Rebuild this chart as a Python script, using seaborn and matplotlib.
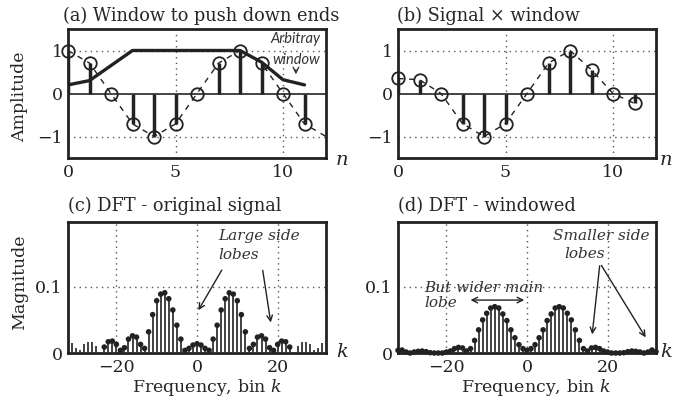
import matplotlib
matplotlib.use("Agg")
import matplotlib.pyplot as plt
import seaborn as sns
import pandas as pd

# ---- time-domain samples -------------------------------------------------
n = [0, 1, 2, 3, 4, 5, 6, 7, 8, 9, 10, 11]
signal = [1.0, 0.707, 0.0, -0.707, -1.0, -0.707, 0.0, 0.707, 1.0, 0.707, 0.0, -0.707]
trace_n = [0, 1, 2, 3, 4, 5, 6, 7, 8, 9, 10, 11, 12]
trace = [1.0, 0.707, 0.0, -0.707, -1.0, -0.707, 0.0, 0.707, 1.0, 0.707, 0.0, -0.707, -1.0]
window_n = [0, 1, 3, 8, 9, 10, 11]
window = [0.2, 0.3, 1.0, 1.0, 0.73, 0.32, 0.2]
windowed = [0.35, 0.32, 0.0, -0.7, -1.0, -0.7, 0.0, 0.707, 1.0, 0.55, 0.0, -0.23]

# ---- spectra --------------------------------------------------------------
k_orig = list(range(-31, 32))
mag_orig = [0.015, 0.008, 0.005, 0.013, 0.017, 0.016, 0.011, 0.0,
            0.009, 0.017, 0.018, 0.013, 0.004, 0.008, 0.021, 0.026,
            0.024, 0.013, 0.007, 0.032, 0.058, 0.079, 0.089, 0.091,
            0.082, 0.065, 0.042, 0.021, 0.004, 0.007, 0.012, 0.014,
            0.012, 0.007, 0.004, 0.021, 0.042, 0.065, 0.082, 0.091,
            0.089, 0.079, 0.058, 0.032, 0.007, 0.013, 0.024, 0.026,
            0.021, 0.008, 0.004, 0.013, 0.018, 0.017, 0.009, 0.0,
            0.011, 0.016, 0.017, 0.013, 0.005, 0.008, 0.015]
k_win = list(range(-32, 33))
mag_win = [0.004, 0.0045, 0.0015, 0.0, 0.0015, 0.0025, 0.003, 0.002,
           0.0005, 0.0, 0.0, 0.0, 0.0015, 0.003, 0.0066, 0.0085,
           0.0076, 0.003, 0.0066, 0.019, 0.035, 0.050, 0.060, 0.068,
           0.070, 0.068, 0.059, 0.049, 0.035, 0.023, 0.0126, 0.0066,
           0.004,
           0.0066, 0.0126, 0.023, 0.035, 0.049, 0.059, 0.068, 0.070,
           0.068, 0.060, 0.050, 0.035, 0.019, 0.0066, 0.003, 0.0076,
           0.0085, 0.0066, 0.003, 0.0015, 0.0, 0.0, 0.0, 0.0005,
           0.002, 0.003, 0.0025, 0.0015, 0.0, 0.0015, 0.0045, 0.002]

sns.set_style("white")
plt.rcParams["font.family"] = ["DejaVu Serif"]
plt.rcParams["mathtext.fontset"] = "dejavuserif"

W, H = 674, 400
fig = plt.figure(figsize=(W / 100, H / 100), dpi=100)


def add_ax(l, t, r, b):
    return fig.add_axes([l / W, 1 - b / H, (r - l) / W, (b - t) / H])


ax_a = add_ax(68, 29, 326, 158)
ax_b = add_ax(398, 29, 656, 158)
ax_c = add_ax(68, 222, 326, 353)
ax_d = add_ax(398, 222, 656, 353)

TICK_FS = 12.5
grid_kw = dict(color="#555555", lw=1.0, ls=(0, (1, 3)), zorder=0)
ink = "#222222"


def frame(ax):
    for s in ax.spines.values():
        s.set_linewidth(2.0)
        s.set_color(ink)
    ax.tick_params(length=0, labelsize=TICK_FS, pad=4, colors="#222222")


def time_panel(ax, vals, trace_n, trace_y):
    frame(ax)
    ax.set_xlim(0, 12)
    ax.set_ylim(-1.5, 1.5)
    ax.set_xticks([0, 5, 10])
    ax.set_yticks([-1, 0, 1])
    ax.set_yticklabels(["\u22121", "0", "1"])
    for x in (5, 10):
        ax.axvline(x, **grid_kw)
    for y in (-1, 1):
        ax.axhline(y, **grid_kw)
    ax.axhline(0, color="#444444", lw=1.4, zorder=1)
    df = pd.DataFrame({"n": trace_n, "v": trace_y})
    sns.lineplot(data=df, x="n", y="v", ax=ax, color=ink, lw=1.0,
                 dashes=False, linestyle=(0, (4, 4)), zorder=2)
    ax.vlines(n, 0, vals, color=ink, lw=2.5, zorder=3)
    ax.plot(n, vals, ls="none", marker="o", ms=9, mfc="none", mec=ink,
            mew=1.3, zorder=4, clip_on=False)
    ax.set_xlabel("")
    ax.set_ylabel("")


def freq_panel(ax, k, mags, dotted_range):
    frame(ax)
    ax.set_xlim(-32, 32)
    ax.set_ylim(0, 0.198)
    ax.set_xticks([-20, 0, 20])
    ax.set_xticklabels(["\u221220", "0", "20"])
    ax.set_yticks([0, 0.1])
    ax.set_yticklabels(["0", "0.1"])
    for x in (-20, 0, 20):
        ax.axvline(x, **grid_kw)
    ax.axhline(0.1, **grid_kw)
    ax.vlines(k, 0, mags, color="#333333", lw=1.3, zorder=3)
    df = pd.DataFrame({"k": k, "m": mags})
    df = df[(df.k >= -dotted_range) & (df.k <= dotted_range)]
    sns.scatterplot(data=df, x="k", y="m", ax=ax, color=ink, s=16,
                    edgecolor="none", zorder=5, clip_on=False)
    ax.set_xlabel("")
    ax.set_ylabel("")


# (a) signal with window
time_panel(ax_a, signal, trace_n, trace)
wdf = pd.DataFrame({"n": window_n, "w": window})
sns.lineplot(data=wdf, x="n", y="w", ax=ax_a, color=ink, lw=2.4, zorder=3)
ax_a.set_xlabel("")
ax_a.set_ylabel("")
ax_a.text(10.6, 1.27, "Arbitray", ha="center", va="center", fontsize=10.5,
          family="Lato", style="italic", color="#333333")
ax_a.text(10.6, 0.77, "window", ha="center", va="center", fontsize=10.5,
          family="Lato", style="italic", color="#333333")
ax_a.annotate("", xy=(10.6, 0.38), xytext=(10.6, 0.62),
              arrowprops=dict(arrowstyle="->", color="#333333", lw=1.0))

# (b) windowed signal
time_panel(ax_b, windowed, n, windowed)

# (c) spectrum of the original signal
freq_panel(ax_c, k_orig, mag_orig, 23)
ax_c.text(5.2, 0.177, "Large side", fontsize=11, style="italic",
          color="#333333", va="center")
ax_c.text(5.2, 0.148, "lobes", fontsize=11, style="italic",
          color="#333333", va="center")
arrow_kw = dict(arrowstyle="->", color="#222222", lw=1.0)
ax_c.annotate("", xy=(0, 0.061), xytext=(6.5, 0.129), arrowprops=arrow_kw)
ax_c.annotate("", xy=(18.4, 0.042), xytext=(16.2, 0.129), arrowprops=arrow_kw)

# (d) spectrum of the windowed signal
freq_panel(ax_d, k_win, mag_win, 32)
ax_d.text(6.4, 0.177, "Smaller side", fontsize=11, style="italic",
          color="#333333", va="center")
ax_d.text(9.3, 0.150, "lobes", fontsize=11, style="italic",
          color="#333333", va="center")
ax_d.annotate("", xy=(16.1, 0.024), xytext=(18.1, 0.136), arrowprops=arrow_kw)
ax_d.annotate("", xy=(29.8, 0.020), xytext=(18.1, 0.136), arrowprops=arrow_kw)
ax_d.text(-25.4, 0.098, "But wider main", fontsize=11, style="italic",
          color="#333333", va="center")
ax_d.text(-25.4, 0.076, "lobe", fontsize=11, style="italic",
          color="#333333", va="center")
ax_d.annotate("", xy=(-14.7, 0.080), xytext=(0, 0.080),
              arrowprops=dict(arrowstyle="<->", color="#222222", lw=1.0))

# titles
TITLE_FS = 12.8
fig.text(63 / W, 1 - 16 / H, "(a) Window to push down ends", fontsize=TITLE_FS,
         va="center", ha="left")
fig.text(397 / W, 1 - 16 / H, "(b) Signal \u00d7 window", fontsize=TITLE_FS,
         va="center", ha="left")
fig.text(68 / W, 1 - 206 / H, "(c) DFT - original signal", fontsize=TITLE_FS,
         va="center", ha="left")
fig.text(398 / W, 1 - 206 / H, "(d) DFT - windowed", fontsize=TITLE_FS,
         va="center", ha="left")

# axis labels
fig.text(20 / W, 1 - 97 / H, "Amplitude", rotation=90, fontsize=12.5,
         ha="center", va="center")
fig.text(20 / W, 1 - 282 / H, "Magnitude", rotation=90, fontsize=12.5,
         ha="center", va="center")
fig.text(207 / W, 1 - 388 / H, "Frequency, bin $k$", fontsize=12.5,
         ha="center", va="center")
fig.text(536 / W, 1 - 388 / H, "Frequency, bin $k$", fontsize=12.5,
         ha="center", va="center")
for (x, y, s) in [(342, 160, "n"), (666, 160, "n"), (342, 352, "k"), (666, 352, "k")]:
    fig.text(x / W, 1 - y / H, s, fontsize=14, style="italic",
             ha="center", va="center")

fig.savefig("out.png", dpi=100)
